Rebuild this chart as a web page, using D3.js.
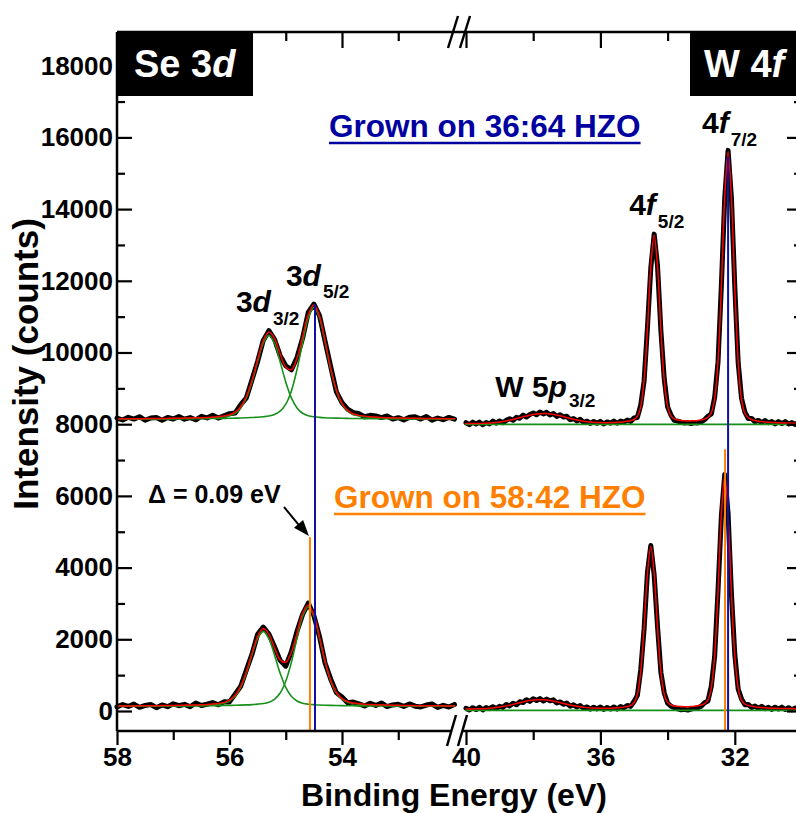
<!DOCTYPE html>
<html><head><meta charset="utf-8">
<script src="https://cdn.jsdelivr.net/npm/d3@7"></script>
<style>body{margin:0;background:#fff}</style>
</head><body><svg id="c" width="796" height="813"></svg>
<script>
// ---------------- DATA ----------------
const seEnergy = [58.0,57.9,57.8,57.7,57.6,57.5,57.4,57.3,57.2,57.1,57.0,56.9,56.8,56.7,56.6,56.5,56.4,56.3,56.2,56.1,56.0,55.9,55.8,55.7,55.6,55.5,55.4,55.3,55.2,55.1,55.0,54.9,54.8,54.7,54.6,54.5,54.4,54.3,54.2,54.1,54.0,53.9,53.8,53.7,53.6,53.5,53.4,53.3,53.2,53.1,53.0,52.9,52.8,52.7,52.6,52.5,52.4,52.3,52.2,52.1,52.0];

const seUpperData = [8171,8117,8192,8143,8208,8110,8172,8188,8110,8187,
8144,8212,8140,8184,8123,8218,8175,8249,8171,8234,
8293,8310,8547,8736,9243,9751,10337,10609,10369,9913,
9630,9516,9861,10400,11117,11350,11030,10305,9601,8903,
8603,8419,8320,8296,8209,8248,8228,8185,8228,8143,
8183,8120,8192,8205,8142,8215,8113,8172,8125,8189,8143];
const seUpperFit = [8151,8152,8152,8153,8153,8155,8157,8158,8160,8162,
8164,8167,8170,8174,8178,8183,8190,8199,8211,8229,
8263,8335,8487,8771,9223,9796,10327,10569,10389,9963,
9595,9521,9836,10440,11062,11327,11015,10315,9556,8958,
8583,8384,8290,8246,8224,8208,8198,8190,8183,8178,
8173,8170,8167,8165,8162,8160,8158,8157,8155,8154,8153];
const seUpper3d32 = [8146,8147,8147,8148,8148,8149,8150,8151,8152,8153,
8155,8157,8159,8162,8165,8169,8174,8181,8191,8207,
8238,8306,8454,8732,9177,9741,10258,10480,10258,9741,
9177,8732,8454,8306,8238,8207,8191,8181,8174,8169,
8165,8162,8159,8157,8155,8153,8152,8151,8150,8149,
8148,8148,8147,8147,8146,8146,8145,8145,8144,8144,8144];
const seUpper3d52 = [8145,8145,8145,8145,8145,8146,8147,8147,8148,8149,
8149,8150,8151,8152,8153,8154,8156,8158,8160,8162,
8165,8169,8173,8179,8186,8195,8209,8229,8271,8362,
8558,8929,9522,10274,10964,11260,10964,10274,9522,8929,
8558,8362,8271,8229,8209,8195,8186,8179,8173,8169,
8165,8162,8160,8158,8156,8154,8153,8152,8151,8150,8149];

const seLowerData = [116,181,127,192,103,155,181,93,170,121,
199,147,185,119,224,155,188,234,175,255,
254,470,689,1142,1584,2142,2339,2147,1792,1412,
1250,1657,2223,2695,3010,2663,2077,1333,887,513,
391,228,249,199,141,217,155,224,124,169,
187,129,197,134,113,166,195,99,158,112,182];
const seLowerFit = [141,141,142,142,143,145,146,148,150,151,
154,157,160,164,169,175,183,194,210,240,
304,440,694,1097,1609,2082,2299,2137,1757,1427,
1360,1637,2173,2725,2960,2683,2062,1388,857,523,
346,263,224,204,191,182,175,169,164,159,
157,154,152,149,148,146,145,144,143,142,142];
const seLower3d32 = [136,136,137,137,138,139,140,141,142,143,
145,147,149,152,156,161,167,176,190,218,
278,410,659,1056,1560,2021,2220,2021,1560,1056,
659,410,278,218,190,176,167,161,156,152,
149,147,145,143,142,141,140,139,138,137,
137,136,136,135,135,134,134,134,134,134,134];
const seLower3d52 = [135,135,135,135,135,136,136,137,138,138,
139,140,141,142,143,144,146,148,150,152,
156,160,165,171,179,191,209,246,327,501,
831,1357,2025,2637,2900,2637,2025,1357,831,501,
327,246,209,191,179,171,165,160,156,152,
150,148,146,144,143,142,141,140,139,138,138];

const wEnergy = [40.0,39.9,39.8,39.7,39.6,39.5,39.4,39.3,39.2,39.1,39.0,38.9,38.8,38.7,38.6,38.5,38.4,38.3,38.2,38.1,38.0,37.9,37.8,37.7,37.6,37.5,37.4,37.3,37.2,37.1,37.0,36.9,36.8,36.7,36.6,36.5,36.4,36.3,36.2,36.1,36.0,35.9,35.8,35.7,35.6,35.5,35.4,35.3,35.2,35.1,35.0,34.9,34.8,34.7,34.6,34.5,34.4,34.3,34.2,34.1,34.0,33.9,33.8,33.7,33.6,33.5,33.4,33.3,33.2,33.1,33.0,32.9,32.8,32.7,32.6,32.5,32.4,32.3,32.2,32.1,32.0,31.9,31.8,31.7,31.6,31.5,31.4,31.3,31.2,31.1,31.0,30.9,30.8,30.7,30.6,30.5,30.4,30.3,30.2,30.1,30.0];

const wUpperData = [8041,7987,8058,8005,8057,7984,8048,8009,8085,8030,
8091,8040,8107,8152,8108,8192,8167,8252,8201,8272,
8311,8265,8339,8288,8330,8256,8299,8215,8264,8200,
8220,8126,8157,8092,8138,8052,8085,8020,8078,8028,
8079,8007,8063,8029,8086,8026,8086,8055,8115,8078,
8171,8188,8531,9198,10696,12354,13302,12417,10610,9265,
8482,8255,8106,8087,8057,8034,8046,8018,8046,8035,
8065,8124,8219,8287,8745,9730,11856,14303,15638,14307,
11837,9720,8723,8339,8159,8162,8070,8105,8042,8103,
8040,8074,8009,8071,8016,8073,8007,8045,7993,8052,8015];
const wUpperFit = [8016,8017,8018,8020,8022,8024,8028,8034,8040,8050,
8061,8075,8092,8112,8133,8157,8182,8207,8231,8252,
8271,8285,8294,8298,8295,8286,8274,8255,8234,8210,
8185,8161,8137,8117,8098,8082,8070,8060,8053,8048,
8044,8042,8043,8044,8046,8051,8056,8065,8080,8098,
8131,8218,8491,9228,10646,12394,13272,12397,10650,9235,
8502,8230,8146,8117,8102,8094,8091,8093,8096,8105,
8120,8144,8189,8312,8705,9765,11811,14333,15598,14332,
11807,9760,8698,8304,8179,8132,8105,8085,8072,8063,
8055,8049,8044,8041,8036,8033,8032,8030,8028,8027,8025];

const wLowerData = [76,27,93,40,103,31,96,63,121,67,
130,100,183,143,215,173,256,238,316,268,
341,294,347,279,331,284,312,226,254,186,
219,132,173,110,151,74,114,52,106,58,
112,46,97,54,113,55,123,88,156,129,
264,434,1143,2287,3869,4615,3791,2361,1080,503,
220,132,92,59,33,45,26,54,72,90,
135,229,279,686,1520,3354,5433,6597,5507,3266,
1581,615,337,175,184,97,140,74,131,64,
104,45,107,54,107,40,93,32,86,39,94];
const wLowerFit = [56,57,58,60,63,66,71,78,86,97,
110,125,143,163,185,208,231,253,276,293,
306,314,317,314,306,294,277,256,234,211,
189,167,148,130,116,104,94,87,81,78,
77,76,77,79,83,90,98,108,126,154,
229,464,1098,2322,3829,4585,3831,2326,1105,473,
240,167,142,129,123,120,121,124,132,145,
165,204,309,646,1555,3309,5473,6557,5472,3306,
1551,640,302,195,154,132,115,104,96,89,
84,80,77,74,72,70,68,67,66,64,64];

const wBgEnergy = [40.0, 30.0];
const wUpperBg = [7995, 7995];
const wLowerBg = [15, 15];

// reference lines: [energy, top intensity]
const seBlueLine = [54.48, 11340];
const seOrangeLine = [54.57, 4850];
const wBlueLine = [32.20, 15450];
const wOrangeLine = [32.29, 7300];

const seMajorTicks = [58, 56, 54];
const seMinorTicks = [57, 55, 53];
const wMajorTicks = [40, 36, 32];
const wMinorTicks = [38, 34, 30];
const yMajorTicks = [0,2000,4000,6000,8000,10000,12000,14000,16000,18000];
const yMinorTicks = [1000,3000,5000,7000,9000,11000,13000,15000,17000];

// ---------------- DRAW ----------------
const FONT = "'Liberation Sans', Arial, Helvetica, sans-serif";
const svg = d3.select('#c').style('font-family', FONT);
svg.append('rect').attr('width', 796).attr('height', 813).attr('fill', '#fff');

const xL = d3.scaleLinear().domain([58, 52]).range([117, 454.5]);
const xR = d3.scaleLinear().domain([40, 30]).range([466, 802]);
const y = d3.scaleLinear().domain([-558, 18940]).range([731, 32]);
const yBot = y.range()[0], yTop = y.range()[1];

const BLUE = '#1010a6', ORANGE = '#ff8000', GREEN = '#15901a', RED = '#ff0000';

function series(xs, E, V, color, width, curve) {
  const ln = d3.line().x(d => xs(d[0])).y(d => y(d[1])).curve(curve || d3.curveLinear);
  svg.append('path').attr('d', ln(d3.zip(E, V))).attr('fill', 'none')
     .attr('stroke', color).attr('stroke-width', width)
     .attr('stroke-linejoin', 'round').attr('stroke-linecap', 'round');
}
const smooth = d3.curveCatmullRom.alpha(0.5);

// black data
series(xL, seEnergy, seUpperData, '#000', 5);
series(xL, seEnergy, seLowerData, '#000', 5);
series(xR, wEnergy, wUpperData, '#000', 5);
series(xR, wEnergy, wLowerData, '#000', 5);
// green components
series(xL, seEnergy, seUpper3d32, GREEN, 1.6, smooth);
series(xL, seEnergy, seUpper3d52, GREEN, 1.6, smooth);
series(xL, seEnergy, seLower3d32, GREEN, 1.6, smooth);
series(xL, seEnergy, seLower3d52, GREEN, 1.6, smooth);
series(xR, wBgEnergy, wUpperBg, GREEN, 1.8);
series(xR, wBgEnergy, wLowerBg, GREEN, 1.8);
// red fits
series(xL, seEnergy, seUpperFit, RED, 1.5, smooth);
series(xL, seEnergy, seLowerFit, RED, 1.5, smooth);
series(xR, wEnergy, wUpperFit, RED, 1.5, smooth);
series(xR, wEnergy, wLowerFit, RED, 1.5, smooth);

// vertical reference lines
function vline(xs, l, color) {
  svg.append('line').attr('x1', xs(l[0])).attr('x2', xs(l[0]))
     .attr('y1', y(l[1])).attr('y2', yBot).attr('stroke', color).attr('stroke-width', 2);
}
vline(xL, seBlueLine, BLUE);
vline(xL, seOrangeLine, ORANGE);
vline(xR, wBlueLine, BLUE);
vline(xR, wOrangeLine, ORANGE);

// ---------------- AXES ----------------
function styleAxis(g) {
  g.select('.domain').remove();
  g.selectAll('.tick line').attr('stroke', '#000').attr('stroke-width', 2.2);
  g.selectAll('.tick text').attr('fill', '#000').style('font-family', FONT)
    .style('font-weight', 'bold').style('font-size', '26px');
}
// left
svg.append('g').attr('transform', 'translate(117,0)')
  .call(d3.axisLeft(y).tickValues(yMajorTicks).tickSize(-15).tickPadding(4).tickFormat(d3.format('d'))).call(styleAxis);
svg.append('g').attr('transform', 'translate(117,0)')
  .call(d3.axisLeft(y).tickValues(yMinorTicks).tickSize(-8).tickFormat('')).call(styleAxis);
// right
svg.append('g').attr('transform', 'translate(802,0)')
  .call(d3.axisRight(y).tickValues(yMajorTicks).tickSize(-15).tickFormat('')).call(styleAxis);
svg.append('g').attr('transform', 'translate(802,0)')
  .call(d3.axisRight(y).tickValues(yMinorTicks).tickSize(-8).tickFormat('')).call(styleAxis);
// bottom / top
[[xL, seMajorTicks, seMinorTicks], [xR, wMajorTicks, wMinorTicks]].forEach(([xs, maj, mi]) => {
  svg.append('g').attr('transform', `translate(0,${yBot})`)
    .call(d3.axisBottom(xs).tickValues(maj).tickSize(14).tickPadding(3).tickFormat(d3.format('d'))).call(styleAxis);
  svg.append('g').attr('transform', `translate(0,${yBot})`)
    .call(d3.axisBottom(xs).tickValues(mi).tickSize(9).tickFormat('')).call(styleAxis);
  svg.append('g').attr('transform', `translate(0,${yTop})`)
    .call(d3.axisTop(xs).tickValues(maj).tickSize(-16).tickFormat('')).call(styleAxis);
  svg.append('g').attr('transform', `translate(0,${yTop})`)
    .call(d3.axisTop(xs).tickValues(mi).tickSize(-9).tickFormat('')).call(styleAxis);
});

// frame
const frame = svg.append('g').attr('stroke', '#000').attr('stroke-width', 2.5).attr('fill', 'none');
frame.append('line').attr('x1', 117).attr('x2', 117).attr('y1', yTop).attr('y2', yBot);
frame.append('line').attr('x1', 117).attr('x2', 802).attr('y1', yTop).attr('y2', yTop);
frame.append('line').attr('x1', 117).attr('x2', 452).attr('y1', yBot).attr('y2', yBot);
frame.append('line').attr('x1', 463).attr('x2', 802).attr('y1', yBot).attr('y2', yBot);
frame.append('line').attr('x1', 802).attr('x2', 802).attr('y1', yTop).attr('y2', yBot);
// break marks
frame.append('line').attr('x1', 448).attr('y1', 48).attr('x2', 458).attr('y2', 16);
frame.append('line').attr('x1', 460).attr('y1', 48).attr('x2', 470).attr('y2', 16);
frame.append('line').attr('x1', 447).attr('y1', 746).attr('x2', 456).attr('y2', 715);
frame.append('line').attr('x1', 458).attr('y1', 746).attr('x2', 467).attr('y2', 715);

// label boxes
svg.append('rect').attr('x', 117).attr('y', yTop).attr('width', 136).attr('height', 64).attr('fill', '#000');
svg.append('rect').attr('x', 690).attr('y', yTop).attr('width', 120).attr('height', 64).attr('fill', '#000');
function boxText(x, parts) {
  const t = svg.append('text').attr('x', x).attr('y', 77).attr('fill', '#fff')
    .style('font-size', '38px').style('font-weight', 'bold');
  parts.forEach(([s, it]) => t.append('tspan').text(s).style('font-style', it ? 'italic' : 'normal'));
}
boxText(134, [['Se 3', false], ['d', true]]);
boxText(704, [['W 4', false], ['f', true]]);

// axis titles
svg.append('text').attr('transform', 'translate(38,364) rotate(-90)').attr('text-anchor', 'middle')
  .style('font-size', '35px').style('font-weight', 'bold').text('Intensity (counts)');
svg.append('text').attr('x', 454).attr('y', 806).attr('text-anchor', 'middle')
  .style('font-size', '32px').style('font-weight', 'bold').text('Binding Energy (eV)');

// peak labels
function peakLabel(x, yb, pre, ital, sub, subDy) {
  const t = svg.append('text').attr('x', x).attr('y', yb).attr('fill', '#000').style('font-weight', 'bold');
  t.append('tspan').text(pre).style('font-size', '30px');
  t.append('tspan').text(ital).style('font-size', '30px').style('font-style', 'italic');
  t.append('tspan').text(sub).style('font-size', '19px').attr('dx', 2).attr('dy', subDy);
}
peakLabel(xL(55.3) - 33, 312, '3', 'd', '3/2', 13);
peakLabel(xL(54.5) - 28, 286, '3', 'd', '5/2', 12);
peakLabel(xR(32.2) - 26, 133, '4', 'f', '7/2', 13);
peakLabel(xR(34.4) - 25, 215, '4', 'f', '5/2', 13);
peakLabel(xR(37.7) - 48, 397, 'W 5', 'p', '3/2', 10);

// sample captions with underline
function caption(x, yb, txt, color) {
  const t = svg.append('text').attr('x', x).attr('y', yb).attr('fill', color)
    .style('font-size', '31.5px').style('font-weight', 'bold').text(txt);
  const w = t.node().getComputedTextLength();
  svg.append('line').attr('x1', x).attr('x2', x + w).attr('y1', yb + 6).attr('y2', yb + 6)
    .attr('stroke', color).attr('stroke-width', 2.6);
}
caption(329, 137, 'Grown on 36:64 HZO', '#0000a0');
caption(334, 508, 'Grown on 58:42 HZO', ORANGE);

// delta annotation
svg.append('text').attr('x', 148).attr('y', 503).style('font-size', '25px').style('font-weight', 'bold')
  .text('\u0394 = 0.09 eV');
const ax = xL(seOrangeLine[0]) - 1, ay = y(seOrangeLine[1]) - 1;
svg.append('line').attr('x1', 284).attr('y1', 507).attr('x2', ax - 10).attr('y2', ay - 11)
  .attr('stroke', '#000').attr('stroke-width', 2);
const ang = Math.atan2(ay - 507, ax - 284);
const hl = 16, hw = 6;
const bx = ax - hl * Math.cos(ang), by = ay - hl * Math.sin(ang);
svg.append('path').attr('d', `M${ax},${ay}L${bx + hw * Math.sin(ang)},${by - hw * Math.cos(ang)}L${bx - hw * Math.sin(ang)},${by + hw * Math.cos(ang)}Z`)
  .attr('fill', '#000');
</script></body></html>
